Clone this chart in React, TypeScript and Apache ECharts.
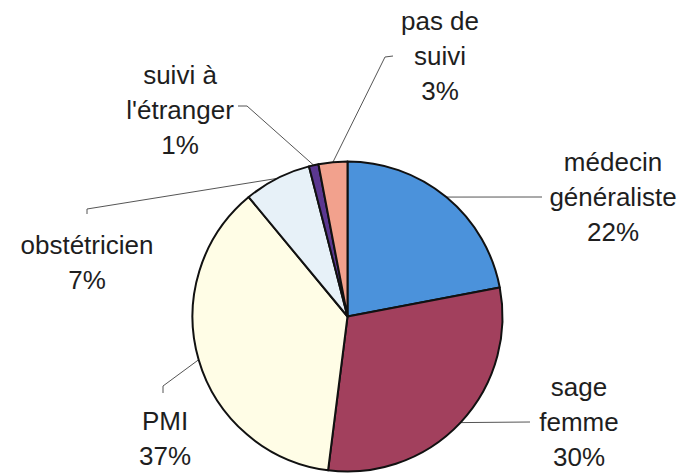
import React, { useEffect, useRef } from "react";
import * as echarts from "echarts";

// Data
const categories = [
  "médecin\ngénéraliste",
  "sage\nfemme",
  "PMI",
  "obstétricien",
  "suivi à\nl'étranger",
  "pas de\nsuivi",
];
const values = [22, 30, 37, 7, 1, 3];
const colors = ["#4B92DB", "#A2405D", "#FFFDE6", "#E7F1F8", "#5B3790", "#F2A18D"];

// Label layout (positions of label blocks and leader-line elbows)
const labelPos: [number, number][] = [
  [613, 197],
  [579, 422],
  [165, 438],
  [87, 262],
  [180, 110],
  [440, 56],
];
const lineElbows: [number, number][][] = [
  [[542, 197]],
  [[530, 422]],
  [[163, 386], [163, 393]],
  [[87, 209], [87, 214]],
  [[247, 106], [238, 106]],
  [[385, 57], [393, 56]],
];

const CX = 347.5;
const CY = 316.5;
const R = 155;

export default function App() {
  const ref = useRef<HTMLDivElement>(null);
  useEffect(() => {
    document.body.style.margin = "0";
    if (!ref.current) return;
    const chart = echarts.init(ref.current, undefined, { renderer: "svg" });
    const total = values.reduce((a, b) => a + b, 0);
    chart.setOption({
      animation: false,
      backgroundColor: "#ffffff",
      series: [
        {
          type: "pie",
          center: [CX, CY],
          radius: R,
          startAngle: 90,
          clockwise: true,
          data: categories.map((name, i) => ({
            name,
            value: values[i],
            itemStyle: { color: colors[i] },
          })),
          itemStyle: { borderColor: "#111111", borderWidth: 2 },
          label: {
            show: true,
            position: "outside",
            formatter: (p: any) => `${p.name}\n${Math.round((p.value / total) * 100)}%`,
            fontFamily: "'Liberation Sans', Arial, sans-serif",
            fontSize: 26,
            lineHeight: 35,
            color: "#1e1e1e",
            align: "center",
          },
          labelLine: {
            show: true,
            lineStyle: { color: "#555555", width: 1 },
          },
          emphasis: { disabled: true },
          labelLayout: (params: any) => {
            const i = params.dataIndex;
            let start = params.labelLinePoints && params.labelLinePoints[0];
            if (!start) {
              let cum = 0;
              for (let k = 0; k < i; k++) cum += values[k];
              const mid = ((cum + values[i] / 2) / total) * Math.PI * 2;
              start = [CX + R * Math.sin(mid), CY - R * Math.cos(mid)];
            }
            return {
              x: labelPos[i][0],
              y: labelPos[i][1],
              align: "center",
              verticalAlign: "middle",
              labelLinePoints: [start, ...lineElbows[i]],
            };
          },
        },
      ],
    });
    return () => chart.dispose();
  }, []);
  return <div ref={ref} style={{ width: 697, height: 476 }} />;
}
